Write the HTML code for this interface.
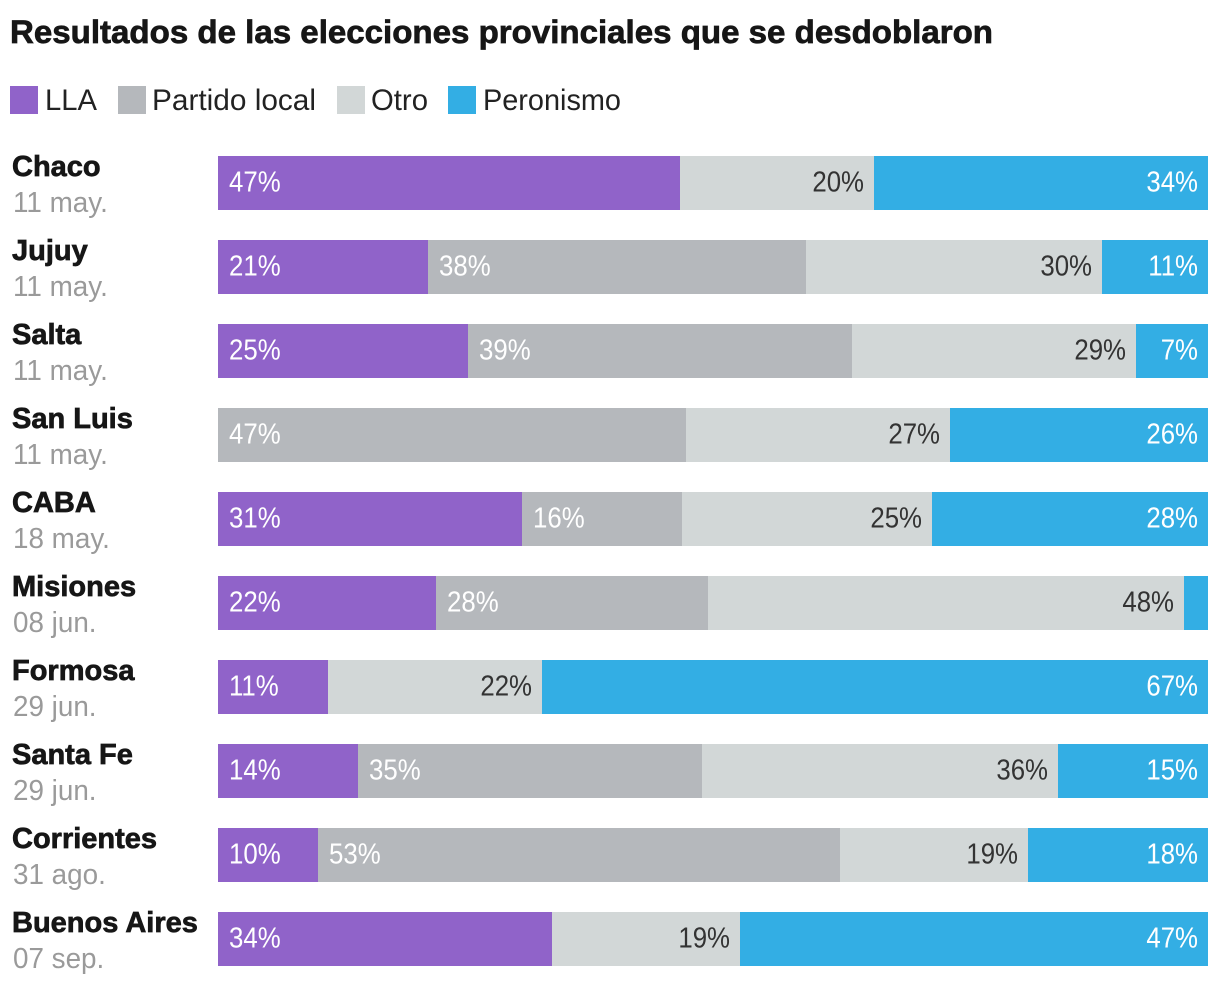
<!DOCTYPE html>
<html lang="es">
<head>
<meta charset="utf-8">
<title>Resultados de las elecciones provinciales que se desdoblaron</title>
<style>
  html, body { margin: 0; padding: 0; background: #fff; }
  svg { display: block; font-family: "Liberation Sans", sans-serif; }
  .value { font-size: 29px; }
  .name { font-size: 29px; font-weight: 700; fill: #161616; stroke: #161616; stroke-width: .7px; }
  .date { font-size: 29px; fill: #9a9a9a; }
  .legend-text { font-size: 30px; fill: #222; }
</style>
</head>
<body>
<svg id="chart" width="1220" height="988" viewBox="0 0 1220 988" xmlns="http://www.w3.org/2000/svg">
  <text x="10" y="43" font-size="32" font-weight="700" fill="#161616" stroke="#161616" stroke-width=".7" textLength="983" lengthAdjust="spacingAndGlyphs">Resultados de las elecciones provinciales que se desdoblaron</text>

  <g>
    <rect x="10" y="86" width="28" height="28" fill="#9063c9"/>
    <text class="legend-text" x="45" y="110" textLength="52" lengthAdjust="spacingAndGlyphs">LLA</text>
    <rect x="118" y="86" width="28" height="28" fill="#b5b8bc"/>
    <text class="legend-text" x="152" y="110" textLength="164" lengthAdjust="spacingAndGlyphs">Partido local</text>
    <rect x="337" y="86" width="28" height="28" fill="#d2d7d7"/>
    <text class="legend-text" x="371" y="110" textLength="57" lengthAdjust="spacingAndGlyphs">Otro</text>
    <rect x="448" y="86" width="28" height="28" fill="#33aee4"/>
    <text class="legend-text" x="483" y="110" textLength="138" lengthAdjust="spacingAndGlyphs">Peronismo</text>
  </g>

  <g id="rows"></g>
</svg>

<script>
const provinces = ["Chaco", "Jujuy", "Salta", "San Luis", "CABA", "Misiones", "Formosa", "Santa Fe", "Corrientes", "Buenos Aires"];
const dates = ["11 may.", "11 may.", "11 may.", "11 may.", "18 may.", "08 jun.", "29 jun.", "29 jun.", "31 ago.", "07 sep."];
const lla = [46.7, 21.2, 25.3, 0, 30.7, 22.0, 11.1, 14.1, 10.1, 33.7];
const partidoLocal = [0, 38.2, 38.7, 47.3, 16.2, 27.5, 0, 34.8, 52.7, 0];
const otro = [19.6, 29.9, 28.7, 26.6, 25.2, 48.1, 21.6, 35.9, 19.0, 19.0];
const peronismo = [33.7, 10.7, 7.3, 26.1, 27.9, 2.4, 67.3, 15.2, 18.2, 47.3];

const seriesNames = ["lla", "partido-local", "otro", "peronismo"];
const seriesValues = [lla, partidoLocal, otro, peronismo];
const seriesColors = ["#9063c9", "#b5b8bc", "#d2d7d7", "#33aee4"];
const labelColors = ["#ffffff", "#ffffff", "#333333", "#ffffff"];
const labelRightAligned = [false, false, true, true];

const SVG_NS = "http://www.w3.org/2000/svg";
const plotLeft = 218;
const plotWidth = 990;
const rowTop = 156;
const rowStep = 84;
const barHeight = 54;
const minLabelValue = 5;

function xScale(share) {
  return Math.round(plotLeft + (share / 100) * plotWidth);
}
function yScale(index) {
  return rowTop + index * rowStep;
}
function make(tag, parent) {
  const el = document.createElementNS(SVG_NS, tag);
  parent.appendChild(el);
  return el;
}
function slug(s) {
  return s.toLowerCase().replace(/\s+/g, "-");
}

const rowsGroup = document.getElementById("rows");

provinces.forEach(function (province, i) {
  const y = yScale(i);
  const row = make("g", rowsGroup);
  
  

  const nameEl = make("text", row);
  
  
  nameEl.setAttribute("class", "name");
  nameEl.setAttribute("x", 12);
  nameEl.setAttribute("y", y + 20);
  nameEl.textContent = province;

  const dateEl = make("text", row);
  
  
  dateEl.setAttribute("class", "date");
  dateEl.setAttribute("transform", "translate(13 " + (y + 56) + ") scale(.96 1)");
  dateEl.textContent = dates[i];

  let cumulative = 0;
  seriesValues.forEach(function (values, s) {
    const v = values[i];
    if (!v) return;
    const x0 = xScale(cumulative);
    const x1 = xScale(cumulative + v);
    cumulative += v;

    const bar = make("rect", row);
    
    
    bar.setAttribute("x", x0);
    bar.setAttribute("y", y);
    bar.setAttribute("width", x1 - x0);
    bar.setAttribute("height", barHeight);
    bar.setAttribute("fill", seriesColors[s]);
    bar.setAttribute("shape-rendering", "crispEdges");

    if (v >= minLabelValue) {
      const label = make("text", row);
      
      
      label.setAttribute("class", "value");
      label.setAttribute("fill", labelColors[s]);
      const lx = labelRightAligned[s] ? x1 - 10 : x0 + 11;
      label.setAttribute("text-anchor", labelRightAligned[s] ? "end" : "start");
      label.setAttribute("transform", "translate(" + lx + " " + (y + 35.5) + ") scale(.89 1)");
      label.textContent = Math.round(v) + "%";
    }
  });
});
</script>
</body>
</html>
